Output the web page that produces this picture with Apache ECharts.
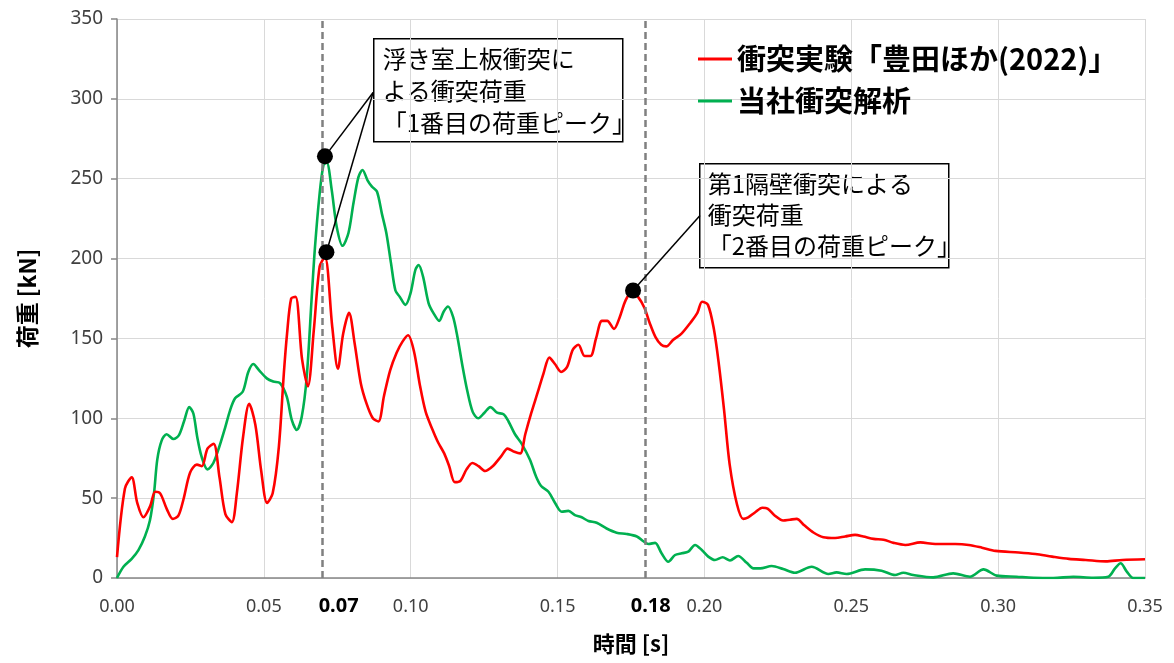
<!DOCTYPE html>
<html><head><meta charset="utf-8">
<script src="https://cdn.jsdelivr.net/npm/echarts@6/dist/echarts.min.js"></script>
<style>html,body{margin:0;padding:0;background:#fff}#c{width:1174px;height:663px}</style>
</head><body><div id="c"></div>
<script>
// ---- data ----
const expTime = [0.000,0.0027,0.005,0.0069,0.009,0.0113,0.013,0.0147,0.017,0.019,0.0209,0.0226,0.0249,0.0272,0.0289,0.0308,0.0329,0.0349,0.0369,0.0391,0.0408,0.0429,0.045,0.0471,0.0491,0.0511,0.053,0.0551,0.0568,0.0579,0.0593,0.0608,0.063,0.065,0.067,0.069,0.0708,0.0733,0.0752,0.077,0.079,0.0809,0.083,0.085,0.0871,0.089,0.0909,0.093,0.0952,0.0972,0.0991,0.1011,0.1032,0.1051,0.1074,0.1093,0.1114,0.1131,0.115,0.117,0.119,0.121,0.1231,0.1253,0.1279,0.1307,0.133,0.1353,0.1373,0.139,0.141,0.1432,0.1452,0.1472,0.1491,0.1512,0.1532,0.1552,0.1571,0.1592,0.1612,0.1631,0.1651,0.1669,0.1692,0.1711,0.1732,0.1754,0.1774,0.1796,0.1813,0.1833,0.1853,0.187,0.1893,0.1922,0.1953,0.1976,0.1992,0.2012,0.2032,0.2049,0.2067,0.2086,0.2111,0.2132,0.2149,0.2172,0.2197,0.2215,0.224,0.2268,0.2291,0.2314,0.234,0.2371,0.2405,0.2445,0.2479,0.2513,0.2541,0.2576,0.261,0.2644,0.2684,0.2735,0.2786,0.2854,0.29,0.2945,0.2991,0.307,0.3127,0.3184,0.3241,0.3298,0.3366,0.3423,0.35];
const expLoad = [13,56,63,47,38,45,54,53,43,37,39,49,66,71,70,81,84,63,40,35,53,88,109,96,67,47,53,82,128,153,175,176,137,120,155,195,201,157,131,153,166,147,122,109,100,98,114,130,141,148,152,142,120,104,93,85,78,70,60,61,68,72,70,67,70,76,81,79,78,90,103,116,128,138,134,129,132,143,146,139,139,150,161,161,156,163,174,179,176,169,160,151,146,145,149,153,160,166,173,171,156,134,105,71,46,37,38,41,44,43.5,39,36,36.5,37,33,28.5,25.5,25,26,27,26,24.5,24,22,20.7,22.3,21.3,21.3,20.7,19,17,16,15,13.4,12,11.3,10.4,11.3,11.7];
const simTime = [0,0.0022,0.005,0.0073,0.0095,0.0112,0.0126,0.0137,0.0152,0.0169,0.0192,0.0211,0.0228,0.0246,0.026,0.0273,0.0288,0.0308,0.0328,0.0348,0.0368,0.0385,0.0402,0.0428,0.0447,0.0464,0.0484,0.051,0.0532,0.0555,0.0578,0.0595,0.0612,0.0629,0.0646,0.0663,0.0674,0.0689,0.0703,0.0714,0.0731,0.0748,0.0768,0.0788,0.0805,0.0822,0.0836,0.0853,0.0868,0.0885,0.0902,0.0917,0.0933,0.0948,0.0963,0.0982,0.0999,0.1016,0.1027,0.1042,0.1061,0.1078,0.1097,0.1112,0.1127,0.1144,0.1158,0.1175,0.1192,0.1211,0.123,0.1251,0.1271,0.1294,0.1316,0.1333,0.1355,0.1378,0.1406,0.1427,0.1444,0.1469,0.1492,0.1514,0.1537,0.1559,0.1582,0.1605,0.1633,0.1667,0.1701,0.1735,0.177,0.1792,0.1809,0.1832,0.1854,0.1877,0.19,0.1923,0.1945,0.1968,0.1991,0.2013,0.2036,0.2062,0.2087,0.2115,0.2144,0.2167,0.219,0.2229,0.2268,0.2308,0.2365,0.2422,0.245,0.2484,0.2547,0.2603,0.2649,0.2677,0.2711,0.2779,0.2847,0.2904,0.295,0.2995,0.3063,0.312,0.3188,0.3256,0.3324,0.3375,0.3398,0.3417,0.3438,0.346,0.35];
const simLoad = [0,7,12,17.5,26,36,53,74,86,90,87,89.5,98,107,103,88.5,76,68,72,82,94,105,112.5,116.6,129,134,130,125,123,122,113.5,99,92.7,101,126,176,207,239,258.6,260,243,220,208,216,234.6,251,255.5,249,245,242,228,216,197,180,176,171,178,193,196,188.7,172,165.7,161,166.7,170,163.6,152,134,117.7,104,100,103.5,107,103.5,102.5,98,90,84,74,63.4,57.6,54,46.8,41.5,42,39.4,38,35.7,34.6,31,28.4,27.6,26,23,21.3,22,15.5,10.2,14.4,15.5,16.5,20.7,17.5,13.4,11.3,13,11,13.8,9.5,6,6,7.5,5.6,3.3,7,2.5,3.5,2.5,5.4,4.6,1.9,3.3,1.9,0.4,2.9,0.8,5.4,1.5,0.8,0.2,0,0.8,0.2,0.8,6,9.2,4,0,0];
const seriesNames = ['衝突実験「豊田ほか(2022)」', '当社衝突解析'];
const xTicks = {min: 0, max: 0.35, interval: 0.05};
const yTicks = {min: 0, max: 350, interval: 50};
const markedTimes = [0.07, 0.18];
// annotation anchors [time, load]
const peak1Sim = [0.0708, 264];
const peak1Exp = [0.0713, 204];
const peak2Exp = [0.1757, 180];
const box1Anchor = [0.0872, 304];
const box2Anchor = [0.1985, 227];
const box1Text = '浮き室上板衝突に\nよる衝突荷重\n「1番目の荷重ピーク」';
const box2Text = '第1隔壁衝突による\n衝突荷重\n「2番目の荷重ピーク」';

const zip = (a, b) => a.map((v, i) => [v, b[i]]);
const JP = '"Noto Sans CJK JP","Noto Sans",sans-serif';

const chart = echarts.init(document.getElementById('c'), null, {renderer: 'canvas'});
chart.setOption({
  animation: false,
  backgroundColor: '#fff',
  grid: {left: 117, right: 29, top: 19, bottom: 85, containLabel: false},
  legend: {
    orient: 'vertical', left: 693, top: 39, itemGap: 12,
    icon: 'rect', itemWidth: 34, itemHeight: 3,
    textStyle: {fontFamily: JP, fontSize: 29, fontWeight: 'bold', color: '#000', lineHeight: 30},
    data: seriesNames
  },
  xAxis: [{
    type: 'value', min: xTicks.min, max: xTicks.max, interval: xTicks.interval,
    name: '時間 [s]', nameLocation: 'middle', nameGap: 55,
    nameTextStyle: {fontFamily: JP, fontSize: 22, fontWeight: 'bold', color: '#000'},
    axisLine: {lineStyle: {color: '#868686', width: 1.5}},
    axisTick: {show: false},
    axisLabel: {fontFamily: '"Noto Sans",sans-serif', fontSize: 18, color: '#404040', margin: 20,
      formatter: v => v.toFixed(2)},
    splitLine: {show: true, lineStyle: {color: '#d9d9d9', width: 1}}
  }, {
    type: 'value', min: xTicks.min, max: xTicks.max, position: 'bottom',
    axisLine: {show: false}, axisTick: {show: false}, splitLine: {show: false},
    axisLabel: {
      customValues: markedTimes, margin: 18,
      formatter: v => (Math.abs(v - markedTimes[0]) < 1e-6 ? '{a|' : '{b|') + v.toFixed(2) + '}',
      rich: {
        a: {fontFamily: '"Noto Sans",sans-serif', fontSize: 20, fontWeight: 'bold', color: '#000', padding: [0, 0, 0, 32]},
        b: {fontFamily: '"Noto Sans",sans-serif', fontSize: 20, fontWeight: 'bold', color: '#000', padding: [0, 0, 0, 10]}
      }
    }
  }],
  yAxis: {
    type: 'value', min: yTicks.min, max: yTicks.max, interval: yTicks.interval,
    name: '荷重 [kN]', nameLocation: 'middle', nameGap: 78, nameRotate: 90,
    nameTextStyle: {fontFamily: JP, fontSize: 23, fontWeight: 'bold', color: '#000'},
    axisLine: {show: true, lineStyle: {color: '#868686', width: 1.5}},
    axisTick: {show: true, length: 6, lineStyle: {color: '#868686', width: 1.5}},
    axisLabel: {fontFamily: '"Noto Sans",sans-serif', fontSize: 19, color: '#404040', margin: 14},
    splitLine: {show: true, lineStyle: {color: '#d9d9d9', width: 1}}
  },
  series: [{
    name: seriesNames[0], type: 'line', data: zip(expTime, expLoad),
    smooth: 0.3, symbol: 'none', z: 3,
    lineStyle: {color: '#ff0000', width: 2.6}, itemStyle: {color: '#ff0000'},
    markLine: {
      silent: true, symbol: 'none', label: {show: false},
      lineStyle: {color: '#808080', type: [7, 4], width: 2.5},
      data: markedTimes.map(t => ({xAxis: t}))
    }
  }, {
    name: seriesNames[1], type: 'line', data: zip(simTime, simLoad),
    smooth: 0.3, symbol: 'none', z: 2,
    lineStyle: {color: '#00b050', width: 2.6}, itemStyle: {color: '#00b050'}
  }, {
    name: 'annot', type: 'line', data: [], z: 5,
    markLine: {
      silent: true, symbol: 'none', label: {show: false},
      lineStyle: {color: '#000', type: 'solid', width: 1.5},
      data: [
        [{coord: peak1Sim}, {coord: box1Anchor}],
        [{coord: peak1Exp}, {coord: box1Anchor}],
        [{coord: peak2Exp}, {coord: box2Anchor}]
      ]
    },
    markPoint: {
      silent: true, symbol: 'circle', symbolSize: 16, label: {show: false},
      itemStyle: {color: '#000'},
      data: [{coord: peak1Sim}, {coord: peak1Exp}, {coord: peak2Exp}]
    }
  }],
  graphic: [{
    type: 'group', left: 373, top: 38,
    children: [
      {type: 'rect', shape: {x: 0, y: 0, width: 249, height: 103}, style: {fill: '#fff', stroke: '#000', lineWidth: 1.5}},
      {type: 'text', x: 9, y: 4, style: {text: box1Text, font: '24px "Noto Sans CJK JP"', fill: '#000', lineHeight: 32}}
    ]
  }, {
    type: 'group', left: 699, top: 163,
    children: [
      {type: 'rect', shape: {x: 0, y: 0, width: 249, height: 104}, style: {fill: '#fff', stroke: '#000', lineWidth: 1.5}},
      {type: 'text', x: 8, y: 5, style: {text: box2Text, font: '24px "Noto Sans CJK JP"', fill: '#000', lineHeight: 31}}
    ]
  }]
});
</script></body></html>
